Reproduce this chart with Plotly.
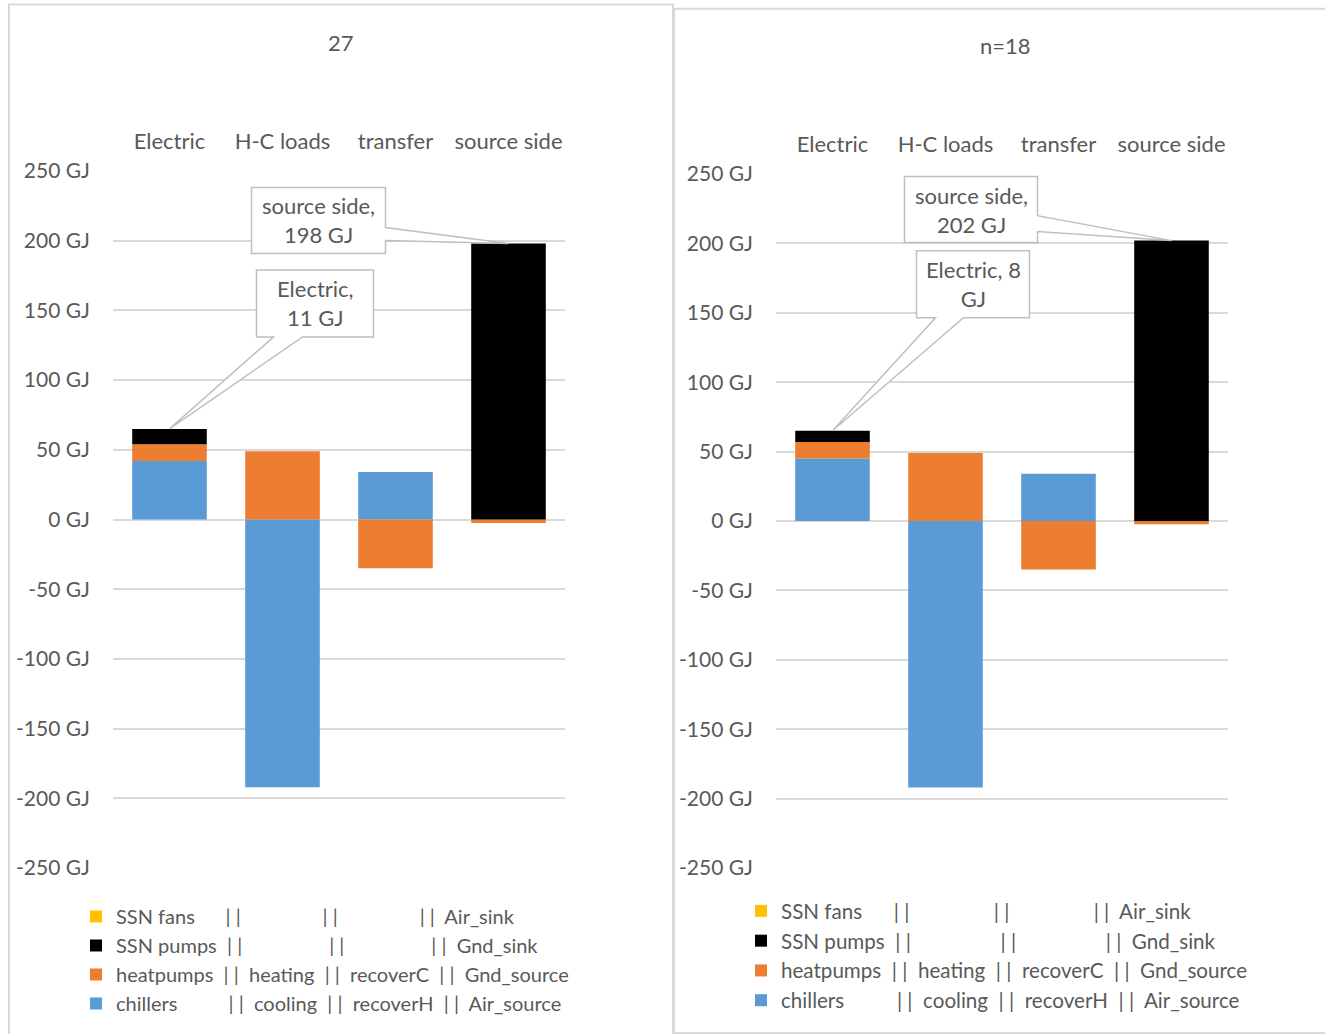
import plotly.graph_objects as go

# ---- data -------------------------------------------------------------
categories = ["Electric", "H-C loads", "transfer", "source side"]

NB = "\u00a0"
SEP = NB * 2 + "|" + NB + "|" + NB * 2
BARS = "|" + NB + "|"

series_names = [
    "chillers" + NB * 10 + BARS + NB * 2 + "cooling" + SEP + "recoverH" + SEP + "Air_source",
    "heatpumps" + SEP + "heating" + SEP + "recoverC" + SEP + "Gnd_source",
    "SSN pumps" + NB * 2 + BARS + NB * 17 + BARS + NB * 17 + BARS + NB * 2 + "Gnd_sink",
    "SSN fans" + NB * 6 + BARS + NB * 16 + BARS + NB * 16 + BARS + NB * 2 + "Air_sink",
]
series_colors = ["#5B9BD5", "#ED7D31", "#000000", "#FFC000"]
legend_ranks = [4, 3, 2, 1]

# panel "27"
left_title = "27"
left_chillers = [42, -192, 34, 0]
left_heatpumps = [12, 49, -35, -2.6]
left_pumps = [11, 0, 0, 198]
left_fans = [0, 0, 0, 0]

# panel "n=18"
right_title = "n=18"
right_chillers = [45, -192, 34, 0]
right_heatpumps = [12, 49, -35, -2.4]
right_pumps = [8, 0, 0, 202]
right_fans = [0, 0, 0, 0]

y_ticks = [-250, -200, -150, -100, -50, 0, 50, 100, 150, 200, 250]
y_ticktext = [f"{v} GJ" for v in y_ticks]

# ---- styling ----------------------------------------------------------
W, H = 1325, 1034
FONT = "Lato"
FS = 22
TXT = "#595959"
GRID = "#D9D9D9"


def px_x(p):
    return p / W


def px_y(p):
    return 1 - p / H


fig = go.Figure()

panels = [
    dict(title=left_title, data=[left_chillers, left_heatpumps, left_pumps, left_fans],
         xa="x", ya="y", legend="legend"),
    dict(title=right_title, data=[right_chillers, right_heatpumps, right_pumps, right_fans],
         xa="x2", ya="y2", legend="legend2"),
]

for p in panels:
    for name, color, rank, vals in zip(series_names, series_colors, legend_ranks, p["data"]):
        fig.add_trace(go.Bar(
            x=categories, y=vals, name=name,
            marker=dict(color=color, line=dict(width=0)),
            xaxis=p["xa"], yaxis=p["ya"], legend=p["legend"],
            legendrank=rank, hoverinfo="skip",
        ))

axis_common = dict(showline=False, zeroline=False, fixedrange=True, automargin=False)
xaxis_common = dict(
    axis_common, type="category", categoryorder="array", categoryarray=categories,
    side="top", showgrid=False, ticks="", ticklabelstandoff=17,
    tickfont=dict(family=FONT, size=FS, color=TXT),
)
yaxis_common = dict(
    axis_common, range=[-250, 250], tickvals=y_ticks, ticktext=y_ticktext,
    showgrid=True, gridcolor=GRID, gridwidth=1.5, ticks="",
    ticklabelstandoff=22, tickfont=dict(family=FONT, size=21, color=TXT),
)

legend_common = dict(
    xanchor="left", yanchor="top", traceorder="normal", tracegroupgap=0,
    bgcolor="rgba(0,0,0,0)",
)

fig.update_layout(
    width=W, height=H, autosize=False,
    margin=dict(l=0, r=0, t=0, b=0, pad=0),
    paper_bgcolor="white", plot_bgcolor="white",
    barmode="relative", bargap=0.34,
    font=dict(family=FONT, size=FS, color=TXT),
    showlegend=True,
    xaxis=dict(xaxis_common, domain=[px_x(113), px_x(565)], anchor="y"),
    yaxis=dict(yaxis_common, domain=[px_y(868), px_y(171)], anchor="x"),
    xaxis2=dict(xaxis_common, domain=[px_x(776), px_x(1228)], anchor="y2"),
    yaxis2=dict(yaxis_common, domain=[px_y(868), px_y(174)], anchor="x2"),
    legend=dict(legend_common, x=px_x(76), y=px_y(897),
                font=dict(family=FONT, size=20, color=TXT)),
    legend2=dict(legend_common, x=px_x(741), y=px_y(891),
                 font=dict(family=FONT, size=20.6, color=TXT)),
)

# panel frames
shapes = [
    dict(type="rect", xref="paper", yref="paper",
         x0=px_x(9), x1=px_x(673), y0=px_y(1045), y1=px_y(4.5),
         line=dict(color=GRID, width=2), fillcolor="rgba(0,0,0,0)", layer="below"),
    dict(type="rect", xref="paper", yref="paper",
         x0=px_x(674), x1=px_x(1340), y0=px_y(1033), y1=px_y(8.7),
         line=dict(color=GRID, width=2), fillcolor="rgba(0,0,0,0)", layer="below"),
]

annotations = [
    dict(text=left_title, xref="paper", yref="paper", x=px_x(341), y=px_y(42),
         xanchor="center", yanchor="middle", showarrow=False,
         font=dict(family=FONT, size=FS, color=TXT)),
    dict(text=right_title, xref="paper", yref="paper", x=px_x(1005), y=px_y(46),
         xanchor="center", yanchor="middle", showarrow=False,
         font=dict(family=FONT, size=FS, color=TXT)),
]


def stack_top(data, i):
    return sum(max(s[i], 0) for s in data)


# callouts on the SSN pumps / Gnd_sink series: (panel, category index, text template,
# box left/right/top/bottom in px from the point, wedge base)
callouts = [
    (panels[0], 3, "{c},<br>{v} GJ", (-257, -123, 56, -10), ("right", 16, 3)),
    (panels[0], 0, "{c},<br>{v} GJ", (87, 204, 159, 92), ("bottom", 104, 133)),
    (panels[1], 3, "{c},<br>{v} GJ", (-267, -134, 64, -2), ("right", 25, 9)),
    (panels[1], 0, "{c}, {v}<br>GJ", (84, 197, 180, 113), ("bottom", 103, 131)),
]

for p, i, tmpl, (l, r, t, b), (side, w0, w1) in callouts:
    val = p["data"][2][i]
    top = stack_top(p["data"], i)
    if side == "right":
        path = f"M{l},{t} L{r},{t} L{r},{w0} L0,0 L{r},{w1} L{r},{b} L{l},{b} Z"
    else:
        path = f"M{l},{t} L{r},{t} L{r},{b} L{w1},{b} L0,0 L{w0},{b} L{l},{b} Z"
    shapes.append(dict(
        type="path", xref=p["xa"], yref=p["ya"],
        xsizemode="pixel", ysizemode="pixel",
        xanchor=categories[i], yanchor=top, path=path,
        line=dict(color="#BFBFBF", width=1.5), fillcolor="white", layer="above",
    ))
    annotations.append(dict(
        text=tmpl.format(c=categories[i], v=f"{val:g}"),
        xref=p["xa"], yref=p["ya"], x=categories[i], y=top,
        xshift=(l + r) / 2, yshift=(t + b) / 2, showarrow=False,
        font=dict(family=FONT, size=FS, color=TXT),
    ))

fig.update_layout(shapes=shapes, annotations=annotations)

fig.write_html("out.html")
